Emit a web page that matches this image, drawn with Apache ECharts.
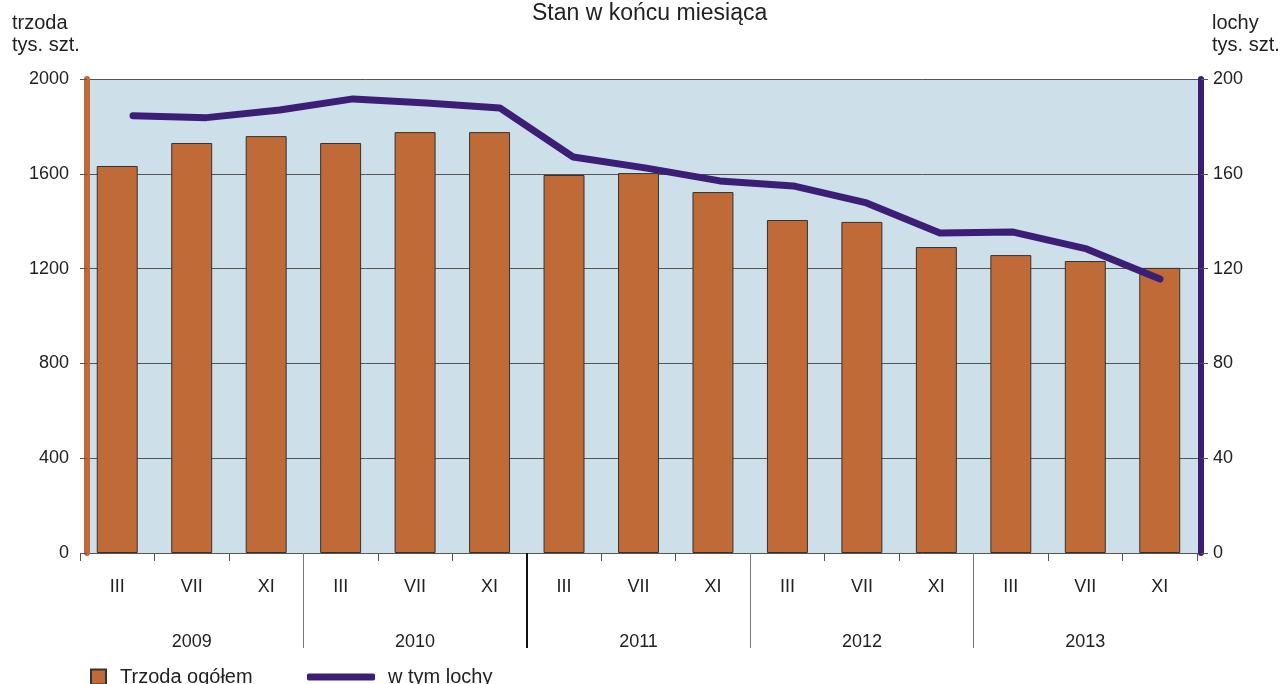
<!DOCTYPE html>
<html>
<head>
<meta charset="utf-8">
<script src="https://cdn.jsdelivr.net/npm/echarts@6/dist/echarts.min.js"></script>
<style>
  html, body { margin: 0; padding: 0; background: #fff; }
  #ch { width: 1281px; height: 684px; }
</style>
</head>
<body>
<div id="ch"></div>
<script>
var months = ['III', 'VII', 'XI', 'III', 'VII', 'XI', 'III', 'VII', 'XI', 'III', 'VII', 'XI', 'III', 'VII', 'XI'];
var years = ['2009', '2010', '2011', '2012', '2013'];
// year separators and year label positions on a 0..15 months scale
var yearBreaks = [3, 9, 12];
var yearBreakMain = [6];
var yearMids = [1.5, 4.5, 7.5, 10.5, 13.5];
var trzoda = [1633, 1730, 1759, 1730, 1776, 1776, 1595, 1603, 1523, 1405, 1397, 1291, 1257, 1232, 1203];
var lochy = [184.5, 183.7, 186.9, 191.6, 189.9, 187.8, 167.1, 162.4, 157.0, 154.9, 147.7, 135.0, 135.4, 128.3, 115.6];

var txt = '#222';
var font = 'Liberation Sans, Arial, sans-serif';
var plain = function (v) { return String(v); };

var chart = echarts.init(document.getElementById('ch'));
var option = {
    animation: false,
    textStyle: { fontFamily: font, color: txt },
    title: [
        { text: 'Stan w końcu miesiąca', left: 527, top: -3,
          textStyle: { fontSize: 23, fontWeight: 'normal', color: txt, fontFamily: font } },
        { text: 'trzoda\ntys. szt.', left: 7, top: 7,
          textStyle: { fontSize: 20, fontWeight: 'normal', color: txt, fontFamily: font, lineHeight: 22 } },
        { text: 'lochy\ntys. szt.', left: 1207, top: 7,
          textStyle: { fontSize: 20, fontWeight: 'normal', color: txt, fontFamily: font, lineHeight: 22 } }
    ],
    legend: [
        { left: 85, top: 662, itemWidth: 15, itemHeight: 15,
          data: [{ name: 'Trzoda ogółem', icon: 'rect' }],
          textStyle: { fontSize: 20, color: txt, fontFamily: font, padding: [0, 0, 0, 9] } },
        { left: 302, top: 662, itemWidth: 68, itemHeight: 7,
          data: [{ name: 'w tym lochy', icon: 'roundRect' }],
          textStyle: { fontSize: 20, color: txt, fontFamily: font, padding: [0, 0, 0, 8] } }
    ],
    grid: [
        // bars and the month / year axes
        { left: 80, right: 84, top: 79, bottom: 131 },
        // sows line (Excel spreads it a little narrower than the bars)
        { left: 133, right: 121, top: 79, bottom: 131 },
        // plot background with the two visible value axes
        { left: 87, right: 80, top: 79, bottom: 131,
          show: true, backgroundColor: '#cddfe8', borderWidth: 0 }
    ],
    xAxis: [
        {
            gridIndex: 0, type: 'category', data: months, position: 'bottom',
            axisLine: { show: false },
            axisTick: { show: true, length: 8, lineStyle: { color: '#555' } },
            axisLabel: { margin: 25, fontSize: 18, color: txt, fontFamily: font }
        },
        {
            gridIndex: 0, type: 'value', min: 0, max: 15, position: 'bottom',
            axisLine: { show: false },
            axisTick: { show: true, length: 95, customValues: yearBreaks, lineStyle: { color: '#777', width: 1 } },
            axisLabel: {
                margin: 80, fontSize: 18, color: txt, fontFamily: font,
                customValues: yearMids,
                formatter: function (v) { return years[Math.floor(v / 3)]; }
            },
            splitLine: { show: false }
        },
        {
            gridIndex: 0, type: 'value', min: 0, max: 15, position: 'bottom',
            axisLine: { show: false },
            axisTick: { show: true, length: 95, customValues: yearBreakMain, lineStyle: { color: '#111', width: 2 } },
            axisLabel: { show: false },
            splitLine: { show: false }
        },
        { gridIndex: 1, type: 'category', data: months, boundaryGap: false, show: false },
        { gridIndex: 2, type: 'value', min: 0, max: 1, show: false, splitLine: { show: false } }
    ],
    yAxis: [
        { gridIndex: 0, type: 'value', min: 0, max: 2000, show: false, splitLine: { show: false } },
        { gridIndex: 1, type: 'value', min: 0, max: 200, show: false, splitLine: { show: false } },
        {
            gridIndex: 2, type: 'value', min: 0, max: 2000, interval: 400, position: 'left',
            axisLine: { show: true, onZero: false, lineStyle: { color: '#c0693a', width: 6 } },
            axisTick: { show: true, length: 7, lineStyle: { color: '#555' } },
            axisLabel: { margin: 18, fontSize: 18, color: txt, fontFamily: font, formatter: plain },
            splitLine: { show: true, lineStyle: { color: '#555', width: 1 } }
        },
        {
            gridIndex: 2, type: 'value', min: 0, max: 200, interval: 40, position: 'right',
            axisLine: { show: true, onZero: false, lineStyle: { color: '#3c1e76', width: 6 } },
            axisTick: { show: true, length: 7, lineStyle: { color: '#555' } },
            axisLabel: { margin: 12, fontSize: 18, color: txt, fontFamily: font, formatter: plain },
            splitLine: { show: false }
        }
    ],
    series: [
        {
            name: 'Trzoda ogółem', type: 'bar', xAxisIndex: 0, yAxisIndex: 0,
            data: trzoda, barCategoryGap: '45%',
            itemStyle: { color: '#bf6a37', borderColor: '#333', borderWidth: 1 }
        },
        {
            name: 'w tym lochy', type: 'line', xAxisIndex: 3, yAxisIndex: 1,
            data: lochy, symbol: 'none',
            lineStyle: { color: '#3c1e76', width: 7, cap: 'round', join: 'round' },
            itemStyle: { color: '#3c1e76' }
        }
    ]
};
chart.setOption(option);
</script>
</body>
</html>
